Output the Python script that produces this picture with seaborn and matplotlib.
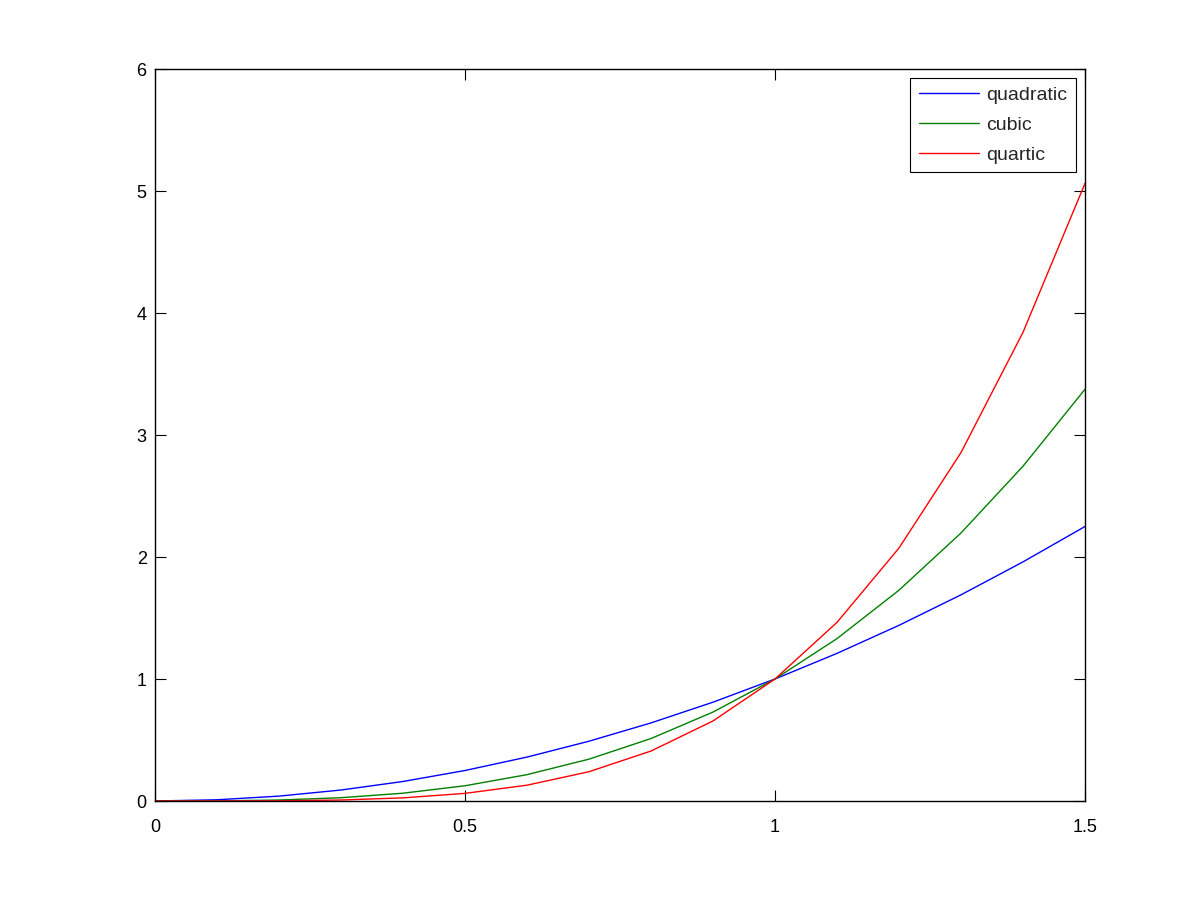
import matplotlib
matplotlib.use("Agg")
import matplotlib.pyplot as plt
import seaborn as sns
import pandas as pd

x_vals = [0.0, 0.1, 0.2, 0.3, 0.4, 0.5, 0.6, 0.7, 0.8, 0.9, 1.0, 1.1, 1.2, 1.3, 1.4, 1.5]
quadratic = [0, 0.01, 0.04, 0.09, 0.16, 0.25, 0.36, 0.49, 0.64, 0.81, 1.0, 1.21, 1.44, 1.69, 1.96, 2.25]
cubic = [0, 0.001, 0.008, 0.027, 0.064, 0.125, 0.216, 0.343, 0.512, 0.729, 1.0, 1.331, 1.728, 2.197, 2.744, 3.375]
quartic = [0, 0.0001, 0.0016, 0.0081, 0.0256, 0.0625, 0.1296, 0.2401, 0.4096, 0.6561, 1.0, 1.4641, 2.0736, 2.8561, 3.8416, 5.0625]
series_names = ["quadratic", "cubic", "quartic"]
x_ticks = [0, 0.5, 1, 1.5]
x_tick_labels = ["0", "0.5", "1", "1.5"]
y_ticks = [0, 1, 2, 3, 4, 5, 6]

rows = []
for name, vals in zip(series_names, [quadratic, cubic, quartic]):
    for xv, yv in zip(x_vals, vals):
        rows.append({"x": xv, "y": yv, "series": name})
df = pd.DataFrame(rows)

sns.set_style("white")
plt.rcParams["font.family"] = ["Liberation Sans", "DejaVu Sans"]

fig = plt.figure(figsize=(12, 9), dpi=100)
ax = fig.add_axes([155 / 1200, 1 - 801 / 900, (1085 - 155) / 1200, (801 - 69) / 900])

palette = {"quadratic": (0, 0, 1), "cubic": (0, 0.5, 0), "quartic": (1, 0, 0)}
sns.lineplot(data=df, x="x", y="y", hue="series", hue_order=series_names,
             palette=palette, ax=ax, linewidth=1.0, estimator=None, sort=False)

ax.set_xlim(0, 1.5)
ax.set_ylim(0, 6)
ax.set_xticks(x_ticks)
ax.set_xticklabels(x_tick_labels)
ax.set_yticks(y_ticks)
ax.set_xlabel("")
ax.set_ylabel("")
for s in ax.spines.values():
    s.set_visible(True)
    s.set_color("black")
    s.set_linewidth(1.0)
ax.tick_params(direction="in", length=8, width=0.8, colors="black", labelsize=13,
               top=True, right=True, bottom=True, left=True)
ax.tick_params(axis="x", pad=13)
ax.tick_params(axis="y", pad=6)

leg = ax.legend(loc="upper right", fontsize=14, frameon=True, fancybox=False,
                edgecolor="black", framealpha=1, handlelength=3.1, handletextpad=0.36,
                borderaxespad=0.46, borderpad=0.45, labelspacing=0.62)
leg.get_frame().set_linewidth(0.8)

fig.savefig("out.png", dpi=100)
